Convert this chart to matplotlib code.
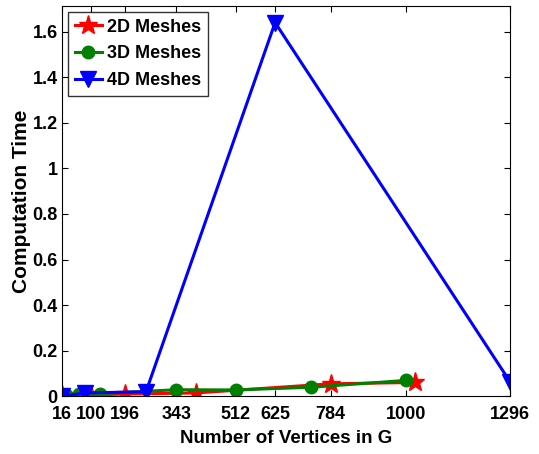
import numpy as np
import matplotlib
matplotlib.use("Agg")
import matplotlib.pyplot as plt

plt.rcParams['font.family'] = ['Liberation Sans', 'DejaVu Sans']
plt.rcParams['font.weight'] = 'bold'

# 2D meshes
x_2d = [16, 64, 100, 196, 400, 784, 1024]
t_2d = [0.005, 0.004, 0.006, 0.01, 0.015, 0.055, 0.061]
# 3D meshes
x_3d = [27, 64, 125, 343, 512, 729, 1000]
t_3d = [0.005, 0.01, 0.012, 0.029, 0.028, 0.04, 0.07]
# 4D meshes
x_4d = [16, 81, 256, 625, 1296]
t_4d = [0.0, 0.015, 0.02, 1.64, 0.065]

xticks = [16, 100, 196, 343, 512, 625, 784, 1000, 1296]
yticks = [0, 0.2, 0.4, 0.6, 0.8, 1, 1.2, 1.4, 1.6]

fig = plt.figure(figsize=(5.39, 4.54), dpi=100)
ax = fig.add_axes([0.115, 0.127, 0.831, 0.86])

ax.plot(x_2d, t_2d, color='red', marker='*', markersize=14, linewidth=2.2, label='2D Meshes')
ax.plot(x_3d, t_3d, color='green', marker='o', markersize=9, linewidth=2.2, label='3D Meshes')
ax.plot(x_4d, t_4d, color='blue', marker='v', markersize=11, linewidth=2.2, label='4D Meshes')

ax.set_xlim(16, 1296)
ax.set_ylim(0, 1.713)
ax.set_xticks(xticks)
ax.set_xticklabels([str(v) for v in xticks])
ax.set_yticks(yticks)
ax.set_yticklabels(['0', '0.2', '0.4', '0.6', '0.8', '1', '1.2', '1.4', '1.6'])
ax.tick_params(direction='in', top=True, right=True, labelsize=13, length=4)
ax.tick_params(axis='x', pad=7)
ax.tick_params(axis='y', pad=3)
for lbl in ax.get_xticklabels() + ax.get_yticklabels():
    lbl.set_fontweight('bold')

ax.set_xlabel('Number of Vertices in G', fontsize=13.5, fontweight='bold', labelpad=5)
ax.set_ylabel('Computation Time', fontsize=15, fontweight='bold', labelpad=1)

leg = ax.legend(loc='upper left', fontsize=13, frameon=True, fancybox=False,
                edgecolor='black', handlelength=1.5, borderaxespad=0.35,
                handletextpad=0.3, labelspacing=0.55, borderpad=0.35)
leg.get_frame().set_linewidth(1.0)
for t in leg.get_texts():
    t.set_fontweight('bold')

fig.savefig('out.png', dpi=100)
